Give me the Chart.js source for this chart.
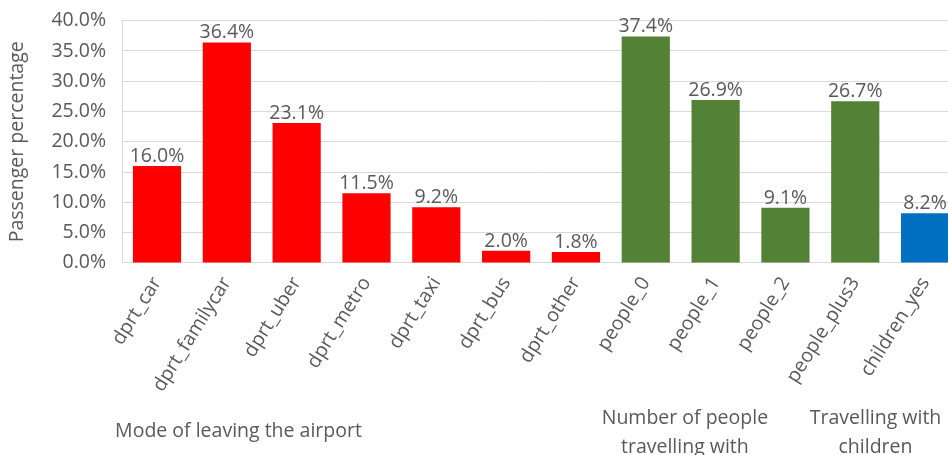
<!DOCTYPE html>
<html>
<head>
<meta charset="utf-8">
<script src="https://cdn.jsdelivr.net/npm/chart.js@4/dist/chart.umd.min.js"></script>
<style>
  html, body { margin:0; padding:0; background:#fff; overflow:hidden; }
  #wrap { width:990px; height:455px; overflow:hidden; }
  #chart { display:block; margin-top:-7px; }
</style>
</head>
<body>
<div id="wrap"><canvas id="chart" width="990" height="462"></canvas></div>
<script>
// ------------------ DATA ------------------
const categories = ["dprt_car","dprt_familycar","dprt_uber","dprt_metro","dprt_taxi","dprt_bus","dprt_other",
                    "people_0","people_1","people_2","people_plus3","children_yes"];
const values = [16.0, 36.4, 23.1, 11.5, 9.2, 2.0, 1.8, 37.4, 26.9, 9.1, 26.7, 8.2];
const groupOf = [0,0,0,0,0,0,0,1,1,1,1,2];
const groupNames = [["Mode of leaving the airport"], ["Number of people","travelling with"], ["Travelling with","children"]];
const yTitle = "Passenger percentage";

// ------------------ STYLE ------------------
const groupColors = ["#FF0000", "#538135", "#0070C0"];
const textColor = "#595959";
const gridColor = "#D9D9D9";
const fontFamily = "'Open Sans', sans-serif";
const fontSize = 19.5;

// group captions under the axis: [position in category units, align]
const captionPlace = [[-0.6, "left"], [7.56, "center"], [10.29, "center"]];

// ------------------ PLUGINS ------------------
const valueLabels = {
  id: "valueLabels",
  afterDatasetsDraw(chart){
    const ctx = chart.ctx;
    const meta = chart.getDatasetMeta(0);
    ctx.save();
    ctx.font = fontSize + "px " + fontFamily;
    ctx.fillStyle = textColor;
    ctx.textAlign = "center";
    ctx.textBaseline = "bottom";
    meta.data.forEach((bar, i) => {
      ctx.fillText(values[i].toFixed(1) + "%", bar.x, bar.y);
    });
    ctx.restore();
  }
};

const groupCaptions = {
  id: "groupCaptions",
  afterDraw(chart){
    const ctx = chart.ctx;
    const x = chart.scales.x;
    const h = chart.height;
    ctx.save();
    ctx.font = fontSize + "px " + fontFamily;
    ctx.fillStyle = textColor;
    ctx.textBaseline = "middle";
    groupNames.forEach((lines, g) => {
      const [pos, align] = captionPlace[g];
      const px = x.getPixelForValue(pos);
      ctx.textAlign = align;
      if(lines.length === 1){
        ctx.fillText(lines[0], px, h - 24);
      }else{
        lines.forEach((ln, k) => ctx.fillText(ln, px, h - 37 + k*29));
      }
    });
    ctx.restore();
  }
};

// ------------------ CHART ------------------
new Chart(document.getElementById("chart").getContext("2d"), {
  type: "bar",
  data: {
    labels: categories,
    datasets: [{
      data: values,
      backgroundColor: groupOf.map(g => groupColors[g]),
      categoryPercentage: 1,
      barPercentage: 0.69
    }]
  },
  options: {
    responsive: false,
    animation: false,
    layout: { padding: { top: 0, right: 30, left: 6, bottom: 49 } },
    plugins: { legend: { display: false }, tooltip: { enabled: false } },
    scales: {
      x: {
        grid: { display: false, drawTicks: false },
        border: { display: true, color: gridColor, width: 1 },
        ticks: {
          color: textColor, font: { family: fontFamily, size: fontSize },
          minRotation: 58, maxRotation: 58, autoSkip: false, padding: 10
        }
      },
      y: {
        min: 0, max: 40,
        grid: { color: gridColor, lineWidth: 1, drawTicks: false },
        border: { display: true, color: gridColor, width: 1 },
        ticks: {
          stepSize: 5, color: textColor, padding: 16,
          font: { family: fontFamily, size: fontSize },
          callback: v => v.toFixed(1) + "%"
        },
        title: {
          display: true, text: yTitle, color: textColor,
          font: { family: fontFamily, size: fontSize }, padding: { top: 0, bottom: 6 }
        }
      }
    }
  },
  plugins: [valueLabels, groupCaptions]
});
</script>
</body>
</html>
